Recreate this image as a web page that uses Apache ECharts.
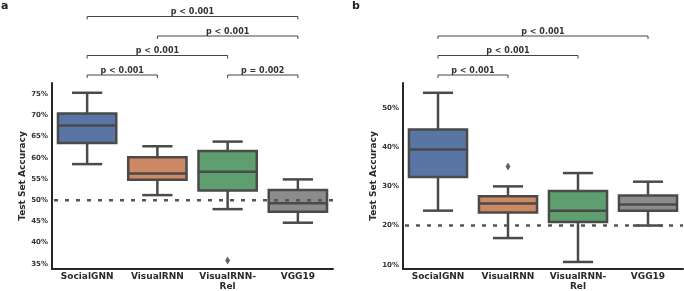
<!DOCTYPE html>
<html>
<head>
<meta charset="utf-8">
<script src="https://cdn.jsdelivr.net/npm/echarts@6/dist/echarts.min.js"></script>
<style>html,body{margin:0;padding:0;background:#fff}#c{width:684px;height:291px}</style>
</head>
<body>
<div id="c"></div>
<script>
// ---- data ----
const categories = ['SocialGNN', 'VisualRNN', 'VisualRNN-\nRel', 'VGG19'];
// [min, Q1, median, Q3, max] in %
const boxA = [
  [58.5, 63.5, 67.6, 70.4, 75.3],
  [51.2, 54.8, 56.3, 60.1, 62.7],
  [47.9, 52.3, 56.7, 61.6, 63.8],
  [44.7, 47.3, 49.3, 52.4, 54.9]
];
const outliersA = [[2, 35.8]];
const boxB = [
  [23.8, 32.4, 39.4, 44.5, 53.9],
  [16.8, 23.3, 25.6, 27.5, 30.0],
  [10.7, 20.9, 23.8, 28.8, 33.4],
  [20.0, 23.8, 25.4, 27.7, 31.2]
];
const outliersB = [[1, 35.1]];
const chanceA = 50;
const chanceB = 20;
const ticksA = [35, 40, 45, 50, 55, 60, 65, 70, 75];
const ticksB = [10, 20, 30, 40, 50];
// [from category, to category, stacking level, label]
const bracketsA = [
  [0, 1, 0, 'p < 0.001'],
  [2, 3, 0, 'p = 0.002'],
  [0, 2, 1, 'p < 0.001'],
  [1, 3, 2, 'p < 0.001'],
  [0, 3, 3, 'p < 0.001']
];
const bracketsB = [
  [0, 1, 0, 'p < 0.001'],
  [0, 2, 1, 'p < 0.001'],
  [0, 3, 2, 'p < 0.001']
];

// ---- styling ----
const boxColors = ['#5975a4', '#cc8963', '#5f9e6e', '#8c8c8c'];
const edge = '#4a4a4a';
const FONT = 'DejaVu Sans';
const rangeA = [33.8, 77.6];
const rangeB = [8.9, 56.4];

function boxRender(params, api) {
  const i = api.value(0);
  const v = [1, 2, 3, 4, 5].map(k => api.value(k));
  const band = api.size([1, 0])[0];
  const bw = band * 0.83, cw = band * 0.43;
  const p = v.map(val => api.coord([i, val]));
  const x = p[0][0];
  const yMin = p[0][1], yQ1 = p[1][1], yMed = p[2][1], yQ3 = p[3][1], yMax = p[4][1];
  const st = { stroke: edge, lineWidth: 2.5 };
  return {
    type: 'group',
    children: [
      { type: 'line', shape: { x1: x, y1: yQ1, x2: x, y2: yMin }, style: st },
      { type: 'line', shape: { x1: x, y1: yQ3, x2: x, y2: yMax }, style: st },
      { type: 'line', shape: { x1: x - cw / 2, y1: yMin, x2: x + cw / 2, y2: yMin }, style: st },
      { type: 'line', shape: { x1: x - cw / 2, y1: yMax, x2: x + cw / 2, y2: yMax }, style: st },
      { type: 'rect', shape: { x: x - bw / 2, y: yQ3, width: bw, height: yQ1 - yQ3 },
        style: { fill: boxColors[i], stroke: edge, lineWidth: 2.5 } },
      { type: 'line', shape: { x1: x - bw / 2, y1: yMed, x2: x + bw / 2, y2: yMed }, style: st }
    ]
  };
}

const bracketsLabel = { bA: bracketsA.map(b => b[3]), bB: bracketsB.map(b => b[3]) };
function makeBracketRender(ymax) {
  return function (params, api) {
    const x1 = api.coord([api.value(0), ymax])[0];
    const x2 = api.coord([api.value(1), ymax])[0];
    const top = api.coord([0, ymax])[1];
    const level = api.value(2);
    const y = top - 8 - 19.5 * level;
    const label = bracketsLabel[params.seriesName][params.dataIndex];
    const st = { stroke: '#444', lineWidth: 1 };
    return {
      type: 'group',
      children: [
        { type: 'polyline', shape: { points: [[x1, y + 3], [x1, y], [x2, y], [x2, y + 3]] }, style: Object.assign({ fill: null }, st) },
        { type: 'text', style: { text: label, x: (x1 + x2) / 2, y: y - 0.5, align: 'center', verticalAlign: 'bottom',
          font: 'bold 8px "' + FONT + '"', fill: '#333' } }
      ]
    };
  };
}

function chanceRender(params, api) {
  const cs = params.coordSys;
  const y = api.coord([0, api.value(0)])[1];
  return { type: 'line', shape: { x1: cs.x + 2, y1: y, x2: cs.x + cs.width, y2: y },
    style: { stroke: '#555', lineWidth: 2.5, lineDash: [4, 7] } };
}

function xAxisCfg(idx) {
  return {
    type: 'category', gridIndex: idx, data: categories,
    axisLine: { lineStyle: { color: '#262626', width: 2 } },
    axisTick: { show: false },
    axisLabel: { margin: 3, fontFamily: FONT, fontWeight: 'bold', fontSize: 9, lineHeight: 10, color: '#2a2a2a', interval: 0 }
  };
}
function yAxisCfg(idx, range, ticks) {
  return {
    type: 'value', gridIndex: idx, min: range[0], max: range[1],
    name: 'Test Set Accuracy', nameLocation: 'middle', nameGap: 24,
    nameTextStyle: { fontFamily: FONT, fontWeight: 'bold', fontSize: 9, color: '#2a2a2a' },
    splitLine: { show: false },
    axisLine: { show: true, lineStyle: { color: '#262626', width: 2 } },
    axisTick: { show: false },
    axisLabel: { customValues: ticks, margin: 4, formatter: v => v + '%', fontFamily: FONT, fontWeight: 'bold', fontSize: 7, color: '#333' }
  };
}

const chart = echarts.init(document.getElementById('c'), null, { renderer: 'canvas' });
chart.setOption({
  animation: false,
  title: [
    { text: 'a', left: 1, top: 1, padding: 0, textStyle: { fontFamily: FONT, fontWeight: 'bold', fontSize: 11, color: '#222' } },
    { text: 'b', left: 352, top: 1, padding: 0, textStyle: { fontFamily: FONT, fontWeight: 'bold', fontSize: 11, color: '#222' } }
  ],
  grid: [
    { left: 52, top: 83, width: 281, height: 186, outerBoundsMode: 'none', containLabel: false },
    { left: 403, top: 83, width: 280, height: 186, outerBoundsMode: 'none', containLabel: false }
  ],
  xAxis: [xAxisCfg(0), xAxisCfg(1)],
  yAxis: [yAxisCfg(0, rangeA, ticksA), yAxisCfg(1, rangeB, ticksB)],
  series: [
    { type: 'custom', xAxisIndex: 0, yAxisIndex: 0, renderItem: boxRender,
      data: boxA.map((b, i) => [i].concat(b)), encode: { x: 0, y: [1, 2, 3, 4, 5] } },
    { type: 'custom', xAxisIndex: 1, yAxisIndex: 1, renderItem: boxRender,
      data: boxB.map((b, i) => [i].concat(b)), encode: { x: 0, y: [1, 2, 3, 4, 5] } },
    { type: 'custom', xAxisIndex: 0, yAxisIndex: 0, renderItem: chanceRender, data: [[chanceA]], encode: { y: 0 }, z: 5 },
    { type: 'custom', xAxisIndex: 1, yAxisIndex: 1, renderItem: chanceRender, data: [[chanceB]], encode: { y: 0 }, z: 5 },
    { type: 'scatter', xAxisIndex: 0, yAxisIndex: 0, data: outliersA, symbol: 'diamond', symbolSize: [5, 8], itemStyle: { color: '#3d3d3d' }, z: 6 },
    { type: 'scatter', xAxisIndex: 1, yAxisIndex: 1, data: outliersB, symbol: 'diamond', symbolSize: [5, 8], itemStyle: { color: '#3d3d3d' }, z: 6 },
    { name: 'bA', type: 'custom', xAxisIndex: 0, yAxisIndex: 0, renderItem: makeBracketRender(rangeA[1]), clip: false,
      data: bracketsA.map(b => [b[0], b[1], b[2]]), encode: { x: [0, 1] } },
    { name: 'bB', type: 'custom', xAxisIndex: 1, yAxisIndex: 1, renderItem: makeBracketRender(rangeB[1]), clip: false,
      data: bracketsB.map(b => [b[0], b[1], b[2]]), encode: { x: [0, 1] } }
  ]
});
</script>
</body>
</html>
